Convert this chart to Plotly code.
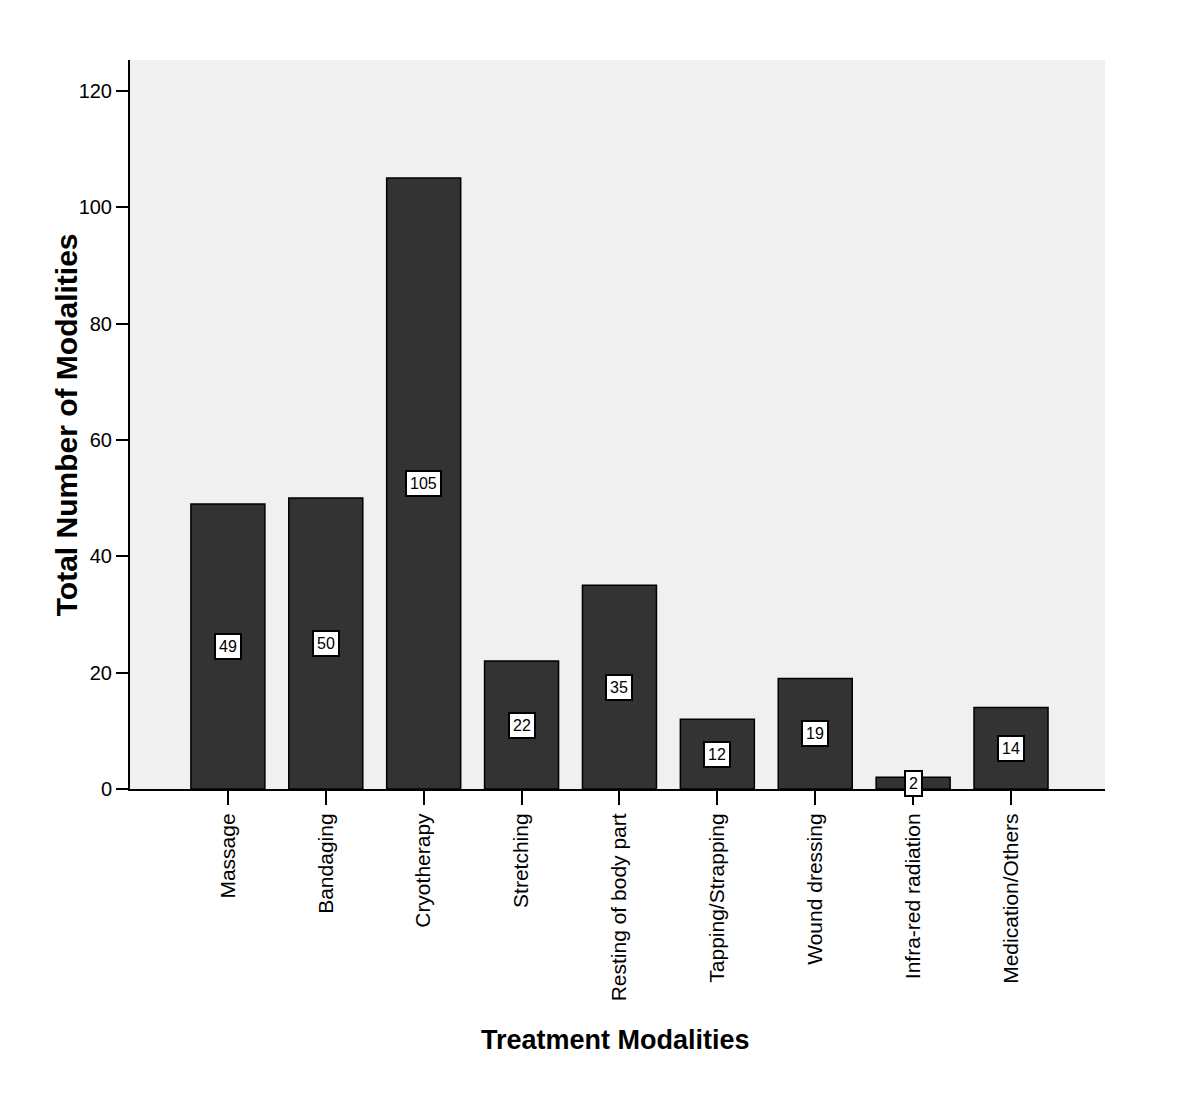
import plotly.graph_objects as go

categories = ["Massage", "Bandaging", "Cryotherapy", "Stretching", "Resting of body part",
              "Tapping/Strapping", "Wound dressing", "Infra-red radiation", "Medication/Others"]
values = [49, 50, 105, 22, 35, 12, 19, 2, 14]
ytick_vals = [0, 20, 40, 60, 80, 100, 120]

FONT = "Arial, Liberation Sans, sans-serif"

fig = go.Figure()
fig.add_trace(go.Bar(
    x=categories, y=values, width=0.756,
    marker=dict(color="#333333", line=dict(color="#000000", width=1.5)),
    showlegend=False, hoverinfo="skip",
))

for c, v in zip(categories, values):
    fig.add_annotation(
        x=c, y=v / 2, xref="x", yref="y", text=str(v), showarrow=False,
        font=dict(family=FONT, size=16, color="#000000"),
        bgcolor="#ffffff", bordercolor="#000000", borderwidth=2, borderpad=3,
        xanchor="center", yanchor="middle",
    )

fig.add_annotation(
    x=0.498, y=-0.344, xref="paper", yref="paper", text="<b>Treatment Modalities</b>",
    showarrow=False, font=dict(family=FONT, size=27, color="#000000"),
    xanchor="center", yanchor="middle",
)
fig.add_annotation(
    x=-0.0656, y=0.499, xref="paper", yref="paper", text="<b>Total Number of Modalities</b>",
    showarrow=False, textangle=-90, font=dict(family=FONT, size=30, color="#000000"),
    xanchor="center", yanchor="middle",
)

fig.update_layout(
    width=1200, height=1106,
    margin=dict(l=122, r=103, t=52, b=325),
    paper_bgcolor="#ffffff", plot_bgcolor="#f0f0f0",
    font=dict(family=FONT, color="#000000"),
    xaxis=dict(
        type="category", range=[-1, 8.96], showgrid=False, zeroline=False,
        showline=True, linecolor="#000000", linewidth=2,
        ticks="outside", ticklen=14, tickwidth=2, tickcolor="#000000",
        tickangle=-90, tickfont=dict(family=FONT, size=21),
    ),
    yaxis=dict(
        range=[0, 125.3], showgrid=False, zeroline=False,
        showline=True, linecolor="#000000", linewidth=2,
        ticks="outside", ticklen=12, tickwidth=2, tickcolor="#000000",
        tickvals=ytick_vals, tickfont=dict(family=FONT, size=20),
    ),
)

fig.write_html("out.html")
